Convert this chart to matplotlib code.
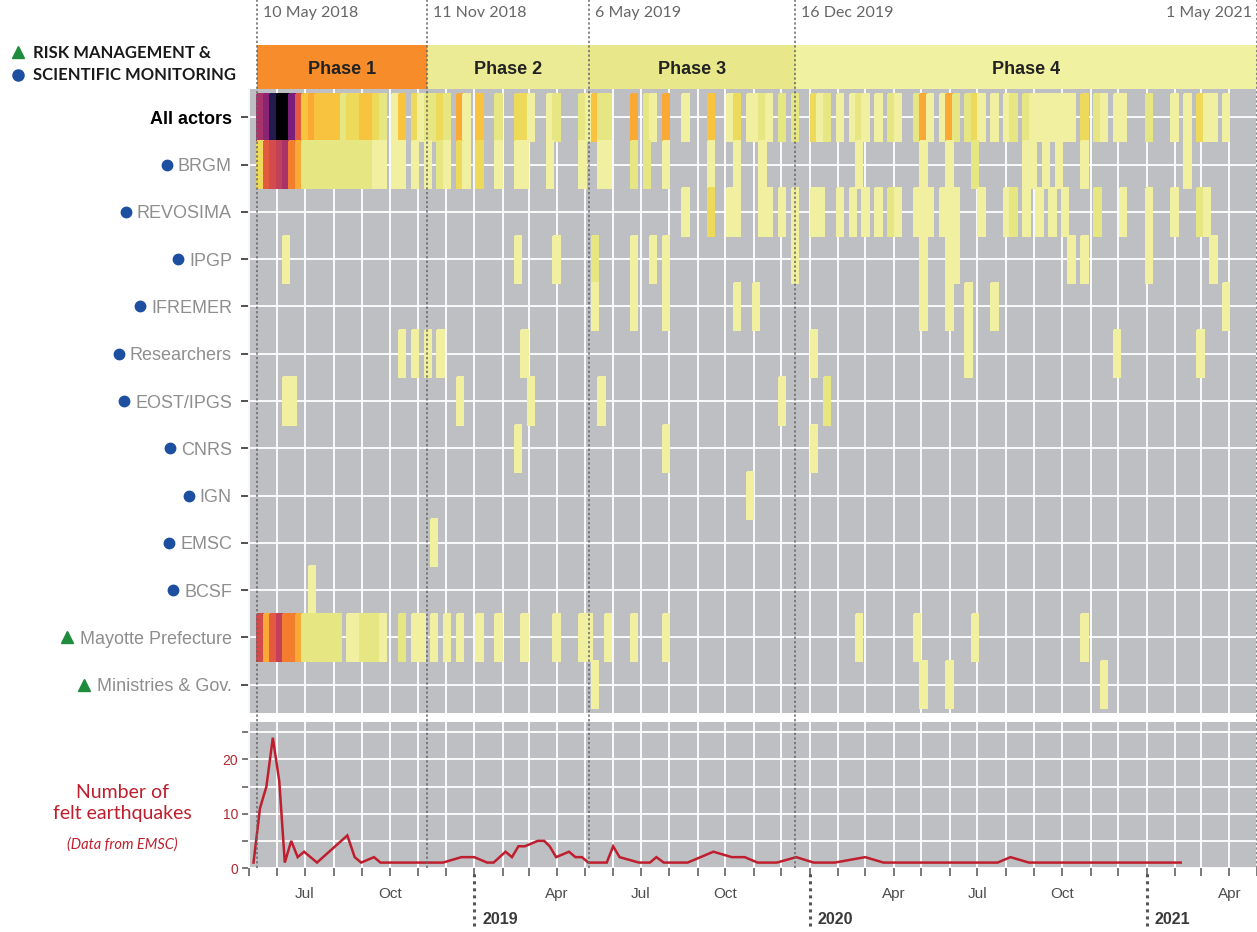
import matplotlib
matplotlib.use("Agg")
import matplotlib.dates as mdates
import matplotlib.pyplot as plt
import matplotlib.transforms as mtransforms
import numpy as np
from matplotlib.colors import BoundaryNorm, ListedColormap
from matplotlib.lines import Line2D

plt.rcParams["font.family"] = ["Liberation Sans", "DejaVu Sans"]
HUMAN = ["Lato", "DejaVu Sans"]

# ---- data -------------------------------------------------------------
ACTORS = ["All actors", "BRGM", "REVOSIMA", "IPGP", "IFREMER", "Researchers",
          "EOST/IPGS", "CNRS", "IGN", "EMSC", "BCSF", "Mayotte Prefecture",
          "Ministries & Gov."]
ACTOR_GROUP = ["all", "sci", "sci", "sci", "sci", "sci", "sci", "sci", "sci",
               "sci", "sci", "risk", "risk"]

# intensity levels 1 (low) .. 14 (high)
LEVEL_COLORS = ["#F0F0A0", "#E6E782", "#EDD95A", "#F8C440", "#F9A934",
                "#F47C2E", "#E45A3E", "#D34C4C", "#C2405A", "#A8326A",
                "#8A2473", "#7A1E7C", "#221B4F", "#000004"]

WEEK_START = "2018-05-10"
N_WEEKS = 156

# (week index, intensity level)
ALL_ACTORS = [(0, 10), (1, 11), (2, 13), (3, 14), (4, 14), (5, 12), (6, 7),
              (7, 4), (8, 5), (9, 4), (10, 4), (11, 4), (12, 4), (13, 2),
              (14, 3), (15, 3), (16, 4), (17, 4), (18, 3), (19, 2), (21, 1),
              (22, 4), (24, 3), (25, 1), (26, 2), (27, 2), (28, 3), (29, 2),
              (31, 5), (32, 1), (34, 4), (37, 2), (40, 3), (41, 3), (42, 1),
              (45, 1), (46, 2), (50, 2), (51, 1), (52, 4), (53, 2), (54, 2),
              (58, 5), (60, 2), (61, 1), (63, 5), (66, 1), (70, 4), (73, 1),
              (74, 3), (76, 1), (77, 1), (78, 2), (79, 1), (81, 2), (83, 2),
              (86, 3), (87, 1), (88, 2), (90, 1), (92, 1), (93, 2), (94, 1),
              (96, 1), (98, 2), (99, 1), (102, 2), (103, 5), (104, 1),
              (106, 1), (107, 5), (108, 2), (110, 2), (111, 3), (112, 1),
              (114, 1), (116, 1), (117, 2), (119, 2), (120, 1), (121, 1),
              (122, 1), (123, 1), (124, 1), (125, 1), (126, 1), (128, 3),
              (130, 2), (131, 1), (133, 1), (134, 1), (138, 2), (142, 1),
              (144, 1), (146, 3), (147, 1), (148, 1), (150, 1)]
BRGM = [(0, 3), (1, 7), (2, 8), (3, 9), (4, 10), (5, 6), (6, 5), (7, 2),
        (8, 2), (9, 2), (10, 2), (11, 2), (12, 2), (13, 2), (14, 2), (15, 2),
        (16, 2), (17, 2), (18, 1), (19, 1), (21, 1), (22, 1), (24, 1),
        (26, 1), (28, 2), (29, 1), (31, 3), (32, 1), (34, 3), (37, 1),
        (40, 1), (41, 1), (45, 1), (50, 1), (53, 1), (54, 1), (58, 2),
        (60, 2), (63, 1), (70, 1), (74, 1), (78, 1), (93, 1), (103, 1),
        (107, 1), (111, 2), (119, 1), (120, 1), (122, 1), (124, 1), (128, 1),
        (144, 1)]
REVOSIMA = [(66, 1), (70, 3), (73, 1), (74, 1), (78, 1), (79, 1), (81, 1),
            (83, 1), (86, 1), (87, 1), (90, 1), (92, 1), (94, 1), (96, 1),
            (98, 2), (99, 1), (102, 1), (103, 1), (104, 1), (106, 1),
            (107, 1), (108, 1), (112, 1), (116, 1), (117, 2), (119, 1),
            (121, 1), (123, 1), (125, 1), (130, 2), (134, 1), (138, 1),
            (142, 1), (146, 2), (147, 1)]
IPGP = [(4, 1), (40, 1), (46, 1), (52, 2), (58, 1), (61, 1), (63, 1), (83, 1),
        (103, 1), (107, 1), (108, 1), (126, 1), (128, 1), (138, 1), (148, 1)]
IFREMER = [(52, 1), (58, 1), (63, 1), (74, 1), (77, 1), (103, 1), (107, 1),
           (110, 1), (114, 1), (150, 1)]
RESEARCHERS = [(22, 1), (24, 1), (26, 1), (28, 1), (41, 1), (86, 1),
               (110, 1), (133, 1), (146, 1)]
EOST_IPGS = [(4, 1), (5, 1), (31, 1), (42, 1), (53, 1), (81, 1), (88, 2)]
CNRS = [(40, 1), (63, 1), (86, 1)]
IGN = [(76, 1)]
EMSC = [(27, 1)]
BCSF = [(8, 1)]
MAYOTTE_PREF = [(0, 8), (1, 5), (2, 7), (3, 9), (4, 6), (5, 6), (6, 5),
                (7, 2), (8, 2), (9, 2), (10, 2), (11, 2), (12, 2), (14, 1),
                (15, 1), (16, 2), (17, 2), (18, 2), (19, 1), (22, 2), (24, 1),
                (25, 1), (27, 1), (29, 1), (31, 1), (34, 1), (37, 1), (41, 1),
                (46, 1), (50, 1), (51, 1), (54, 1), (58, 1), (63, 1), (93, 1),
                (102, 1), (111, 1), (128, 1)]
MINISTRIES = [(52, 1), (103, 1), (107, 1), (131, 1)]

ROWS = [ALL_ACTORS, BRGM, REVOSIMA, IPGP, IFREMER, RESEARCHERS, EOST_IPGS,
        CNRS, IGN, EMSC, BCSF, MAYOTTE_PREF, MINISTRIES]

QUAKE_DATES = ["2018-05-06", "2018-05-13", "2018-05-20", "2018-05-27",
               "2018-06-03", "2018-06-09", "2018-06-16", "2018-06-23",
               "2018-06-30", "2018-07-14", "2018-08-16", "2018-08-24",
               "2018-08-31", "2018-09-14", "2018-09-21", "2018-11-28",
               "2018-12-18", "2019-01-01", "2019-01-15", "2019-01-22",
               "2019-02-04", "2019-02-11", "2019-02-18", "2019-02-25",
               "2019-03-11", "2019-03-18", "2019-03-24", "2019-03-31",
               "2019-04-14", "2019-04-21", "2019-04-28", "2019-05-05",
               "2019-05-25", "2019-06-01", "2019-06-08", "2019-06-29",
               "2019-07-11", "2019-07-18", "2019-07-26", "2019-08-21",
               "2019-09-18", "2019-10-08", "2019-10-22", "2019-11-05",
               "2019-11-26", "2019-12-17", "2020-01-05", "2020-01-28",
               "2020-03-01", "2020-03-21", "2020-07-23", "2020-08-06",
               "2020-08-26", "2021-02-07"]
QUAKE_COUNTS = [1, 11, 15, 24, 16, 1, 5, 2, 3, 1, 6, 2, 1, 2, 1, 1, 2, 2, 1,
                1, 3, 2, 4, 4, 5, 5, 4, 2, 3, 2, 2, 1, 1, 4, 2, 1, 1, 2, 1, 1,
                3, 2, 2, 1, 1, 2, 1, 1, 2, 1, 1, 2, 1, 1]

PHASE_NAMES = ["Phase 1", "Phase 2", "Phase 3", "Phase 4"]
PHASE_STARTS = ["2018-05-10", "2018-11-11", "2019-05-06", "2019-12-16"]
PHASE_ENDS = ["2018-11-11", "2019-05-06", "2019-12-16", "2021-05-01"]
PHASE_COLORS = ["#F78D2A", "#EAEB94", "#E8E88A", "#F1F1A2"]
MARK_DATES = ["2018-05-10", "2018-11-11", "2019-05-06", "2019-12-16", "2021-05-01"]
MARK_LABELS = ["10 May 2018", "11 Nov 2018", "6 May 2019", "16 Dec 2019", "1 May 2021"]
YEAR_LABELS = ["2019", "2020", "2021"]

X_MIN, X_MAX = "2018-04-30", "2021-05-01"

# ---- layout -----------------------------------------------------------
W, H = 1257, 932
BG = "#BEBFC3"
fig = plt.figure(figsize=(W / 100, H / 100), dpi=100)
left, width = 248 / W, 1009 / W


def fy(px):
    return 1 - px / H


ax_heat = fig.add_axes([left, fy(713), width, (713 - 89) / H])
ax_phase = fig.add_axes([left, fy(89), width, (89 - 45) / H])
ax_q = fig.add_axes([left, fy(868), width, (868 - 722) / H])

xmin = mdates.datestr2num(X_MIN)
xmax = mdates.datestr2num(X_MAX)

# ---- heatmap ----------------------------------------------------------
grid = np.zeros((len(ROWS), N_WEEKS))
for r, cells in enumerate(ROWS):
    for wk, lev in cells:
        grid[r, wk] = lev
start = np.datetime64(WEEK_START)
x_edges = mdates.date2num(start + np.arange(N_WEEKS + 1) * np.timedelta64(7, "D"))
y_edges = np.arange(len(ROWS) + 1) - 0.5
cmap = ListedColormap(LEVEL_COLORS)
norm = BoundaryNorm(np.arange(0.5, len(LEVEL_COLORS) + 1), cmap.N)
ax_heat.set_facecolor(BG)
ax_heat.pcolormesh(x_edges, y_edges, np.ma.masked_equal(grid, 0),
                   cmap=cmap, norm=norm, zorder=2, edgecolors="face",
                   linewidth=0.3)
ax_heat.set_xlim(xmin, xmax)
ax_heat.set_ylim(len(ROWS) - 0.4, -0.6)
ax_heat.xaxis.set_major_locator(mdates.MonthLocator())
ax_heat.set_yticks(range(len(ROWS)))
ax_heat.set_yticklabels([])
ax_heat.tick_params(axis="x", length=0, labelbottom=False)
ax_heat.tick_params(axis="y", length=5, width=1.2, color="#333333")
ax_heat.grid(color="white", linewidth=1.3, zorder=1)
ax_heat.set_axisbelow(True)
for s in ax_heat.spines.values():
    s.set_visible(False)

label_tf = mtransforms.blended_transform_factory(ax_heat.transAxes, ax_heat.transData)
label_texts = []
for i, name in enumerate(ACTORS):
    if ACTOR_GROUP[i] == "all":
        t = ax_heat.text(-0.0159, i, name, transform=label_tf, ha="right",
                         va="center_baseline", fontsize=13, fontweight="bold",
                         color="black")
    else:
        t = ax_heat.text(-0.0159, i, name, transform=label_tf, ha="right",
                         va="center_baseline", fontsize=13, color="#8E8E8E")
    label_texts.append(t)

# ---- phase bar --------------------------------------------------------
ax_phase.set_xlim(xmin, xmax)
ax_phase.set_ylim(0, 1)
ax_phase.axis("off")
for name, s0, s1, c in zip(PHASE_NAMES, PHASE_STARTS, PHASE_ENDS, PHASE_COLORS):
    a, b = mdates.datestr2num(s0), mdates.datestr2num(s1)
    ax_phase.axvspan(a, b, color=c, lw=0)
    ax_phase.text((a + b) / 2, 0.5, name, ha="center", va="center_baseline",
                  fontsize=13, fontweight="bold", color="#222222")

# ---- felt earthquakes -------------------------------------------------
ax_q.set_facecolor(BG)
ax_q.plot(mdates.datestr2num(QUAKE_DATES), QUAKE_COUNTS, color="#BE1E2D",
          lw=1.8, zorder=3, solid_joinstyle="miter")
ax_q.set_xlim(xmin, xmax)
ax_q.set_ylim(0, 26.9)
ax_q.set_yticks([0, 5, 10, 15, 20, 25])
ax_q.set_yticklabels(["0", "", "10", "", "20", ""])
ax_q.xaxis.set_major_locator(mdates.MonthLocator())


def month_label(x, pos=None):
    m = mdates.num2date(x).month
    return {4: "Apr", 7: "Jul", 10: "Oct"}.get(m, "")


ax_q.xaxis.set_major_formatter(plt.FuncFormatter(month_label))
ax_q.tick_params(axis="x", length=6, width=1.1, color="#555555",
                 labelsize=11, labelcolor="#4D4D4D", pad=8)
ax_q.tick_params(axis="y", length=4, width=1.1, color="#555555",
                 labelsize=10, labelcolor="#B22A30", pad=3)
ax_q.grid(color="white", linewidth=1.3, zorder=1)
ax_q.set_axisbelow(True)
for s in ax_q.spines.values():
    s.set_visible(False)

# ---- overlay: dotted markers and date labels --------------------------
ax_over = fig.add_axes([left, 0, width, 1], facecolor="none")
ax_over.set_xlim(xmin, xmax)
ax_over.set_ylim(0, 1)
ax_over.axis("off")
for d, lab in zip(MARK_DATES, MARK_LABELS):
    x = mdates.datestr2num(d)
    ax_over.axvline(x, ymin=fy(868), ymax=1, color="#666666", lw=1.1,
                    ls=(0, (1.5, 1.5)), clip_on=False, zorder=5)
    if d == MARK_DATES[-1]:
        ax_over.annotate(lab, (x, fy(13)), xytext=(-5, 0), textcoords="offset pixels",
                         ha="right", va="center", fontsize=11.5, color="#666666",
                         family=HUMAN)
    else:
        ax_over.annotate(lab, (x, fy(13)), xytext=(6, 0), textcoords="offset pixels",
                         ha="left", va="center", fontsize=11.5, color="#666666",
                         family=HUMAN)
for yr in YEAR_LABELS:
    x = mdates.datestr2num(yr + "-01-01")
    ax_over.axvline(x, ymin=fy(926), ymax=fy(873), color="#555555", lw=2.2,
                    ls=(0, (1, 1.3)), clip_on=False)
    ax_over.annotate(yr, (x, fy(920)), xytext=(8, 0), textcoords="offset pixels",
                     ha="left", va="center", fontsize=11.5, fontweight="bold",
                     color="#3A3A3A")

# ---- left annotations -------------------------------------------------
GREEN, BLUE = "#1E8C3C", "#1C4FA0"
fig.add_artist(Line2D([18 / W], [fy(52)], marker="^", ms=9, color=GREEN, lw=0))
fig.add_artist(Line2D([18 / W], [fy(75)], marker="o", ms=8, color=BLUE, lw=0))
fig.text(33 / W, fy(53), "RISK MANAGEMENT &", ha="left", va="center",
         fontsize=12, fontweight="bold", color="#1A1A1A", family=HUMAN)
fig.text(33 / W, fy(75), "SCIENTIFIC MONITORING", ha="left", va="center",
         fontsize=12, fontweight="bold", color="#1A1A1A", family=HUMAN)
fig.text(122 / W, fy(803), "Number of\nfelt earthquakes", ha="center", va="center",
         fontsize=14, color="#BE1E2D", linespacing=1.35, family=HUMAN)
fig.text(122 / W, fy(845), "(Data from EMSC)", ha="center", va="center",
         fontsize=10.5, style="italic", color="#BE1E2D", family=HUMAN)

fig.canvas.draw()
renderer = fig.canvas.get_renderer()
for i, t in enumerate(label_texts):
    grp = ACTOR_GROUP[i]
    if grp == "all":
        continue
    bb = t.get_window_extent(renderer)
    yc = ax_heat.transData.transform((xmin, i))[1]
    if grp == "sci":
        fig.add_artist(Line2D([(bb.x0 - 11) / W], [yc / H], marker="o", ms=7.5,
                              color=BLUE, lw=0))
    else:
        fig.add_artist(Line2D([(bb.x0 - 13) / W], [yc / H], marker="^", ms=9,
                              color=GREEN, lw=0))

fig.savefig("out.png", dpi=100)
